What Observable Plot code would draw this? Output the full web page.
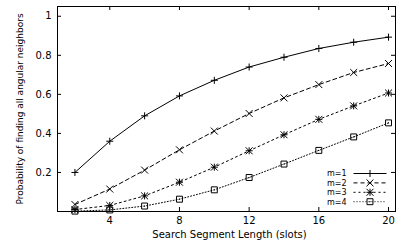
<!DOCTYPE html>
<html><head><meta charset="utf-8">
<script src="https://cdn.jsdelivr.net/npm/d3@7"></script>
<script src="https://cdn.jsdelivr.net/npm/@observablehq/plot@0.6"></script>
<style>body{margin:0;background:#fff} svg{display:block}</style>
</head><body><div id="chart"></div>
<script>
const xs = [2,4,6,8,10,12,14,16,18,20];
const m1 = [0.20,0.36,0.49,0.592,0.672,0.74,0.79,0.835,0.867,0.893];
const m2 = [0.036,0.115,0.212,0.316,0.412,0.502,0.582,0.65,0.712,0.758];
const m3 = [0.01,0.031,0.08,0.15,0.227,0.311,0.393,0.472,0.541,0.607];
const m4 = [0.002,0.008,0.028,0.063,0.111,0.174,0.243,0.313,0.382,0.454];
const seriesNames = ["m=1","m=2","m=3","m=4"];
const xTicks = [4,8,12,16,20];
const yTicks = [0.2,0.4,0.6,0.8,1];
const xLabel = "Search Segment Length (slots)";
const yLabel = "Probability of finding all angular neighbors";

const allSeries = [m1,m2,m3,m4];
const dashes = [null, "4,3", "2,3", "1,2"];
const rows = allSeries.map((vals, i) => xs.map((x, j) => ({x, y: vals[j], s: seriesNames[i]})));

const R_PLUS = 2.4, R_TIMES = 3.25, R_SQ = 3.8;
const W = 396, H = 242, ML = 57, MT = 6, MR = 1, MB = 31;
const fw = W - ML - MR, fh = H - MT - MB;

const marks = [];
rows.forEach((d, i) => {
  marks.push(Plot.line(d, {x: "x", y: "y", stroke: "black", strokeWidth: 1, strokeDasharray: dashes[i]}));
});
marks.push(Plot.dot(rows[0], {x:"x", y:"y", symbol:"plus", r:R_PLUS, stroke:"black", strokeWidth:1}));
marks.push(Plot.dot(rows[1], {x:"x", y:"y", symbol:"times", r:R_TIMES, stroke:"black", strokeWidth:1}));
marks.push(Plot.dot(rows[2], {x:"x", y:"y", symbol:"plus", r:R_PLUS, stroke:"black", strokeWidth:1}));
marks.push(Plot.dot(rows[2], {x:"x", y:"y", symbol:"times", r:R_TIMES, stroke:"black", strokeWidth:1}));
marks.push(Plot.dot(rows[3], {x:"x", y:"y", symbol:"square2", r:R_SQ, stroke:"black", strokeWidth:1}));
marks.push(Plot.dot(rows[3], {x:"x", y:"y", r:0.6, fill:"black"}));

const chart = Plot.plot({
  width: W, height: H,
  marginLeft: ML, marginTop: MT, marginRight: MR, marginBottom: MB,
  style: {fontFamily: "DejaVu Sans, sans-serif", fontSize: "10px", background: "white", color: "black"},
  x: {domain: [1, 20.4]},
  y: {domain: [0, 1.05]},
  marks: [
    Plot.frame({stroke: "black", strokeWidth: 1}),
    Plot.ruleX(xTicks, {x: d => d, insetTop: fh - 4, stroke: "black"}),
    Plot.ruleX(xTicks, {x: d => d, insetBottom: fh - 4, stroke: "black"}),
    Plot.ruleY(yTicks, {y: d => d, insetRight: fw - 4, stroke: "black"}),
    Plot.ruleY(yTicks, {y: d => d, insetLeft: fw - 4, stroke: "black"}),
    Plot.axisX(xTicks, {tickSize: 0, tickPadding: 5, label: null, tickFormat: d => String(d)}),
    Plot.axisY(yTicks, {tickSize: 0, tickPadding: 6, label: null, tickFormat: d => String(d)}),
    Plot.text([xLabel], {text: d => d, frameAnchor: "bottom", textAnchor: "middle", dy: 26, dx: 3}),
    Plot.text([yLabel], {text: d => d, frameAnchor: "left", textAnchor: "middle", rotate: -90, dx: -37, fontSize: 9}),
    ...marks
  ]
});
document.getElementById("chart").appendChild(chart);

// legend (inside plot, bottom right)
const svg = d3.select(chart.tagName.toLowerCase() === "svg" ? chart : chart.querySelector("svg"));
const lg = svg.append("g").attr("transform", "translate(0.5,0.5)");
const symSize = r => Math.PI * r * r;
seriesNames.forEach((name, i) => {
  const y = 173 + i * 9.4;
  lg.append("text").attr("x", 346).attr("y", y).attr("dy", "0.35em")
    .attr("font-size", 8).attr("text-anchor", "end").attr("fill", "black").text(name);
  lg.append("line").attr("x1", 353).attr("x2", 386).attr("y1", y).attr("y2", y)
    .attr("stroke", "black").attr("stroke-dasharray", dashes[i]);
  const g = lg.append("g").attr("transform", `translate(369.5,${y})`).attr("fill", "none").attr("stroke", "black");
  if (i === 0 || i === 2) g.append("path").attr("d", d3.symbol(d3.symbolPlus, symSize(R_PLUS))());
  if (i === 1 || i === 2) g.append("path").attr("d", d3.symbol(d3.symbolTimes, symSize(R_TIMES))());
  if (i === 3) {
    g.append("path").attr("d", d3.symbol(d3.symbolSquare2, symSize(R_SQ))());
    g.append("circle").attr("r", 0.6).attr("fill", "black").attr("stroke", "none");
  }
});
</script>
</body></html>
